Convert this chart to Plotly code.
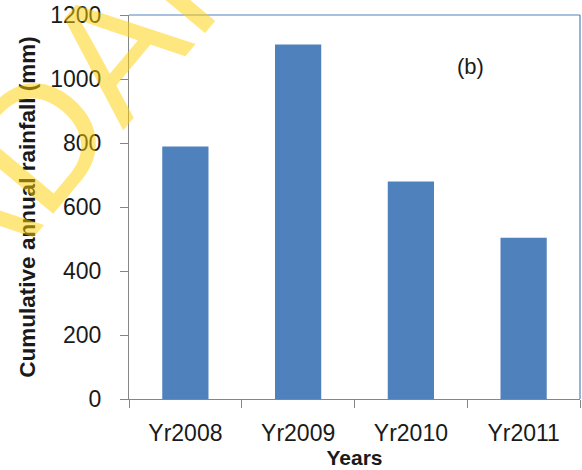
import plotly.graph_objects as go

years = ["Yr2008", "Yr2009", "Yr2010", "Yr2011"]
rainfall = [789, 1108, 680, 504]
y_ticks = [0, 200, 400, 600, 800, 1000, 1200]

BAR = "#4F81BD"
AX = "#868686"
FONT = "Liberation Sans, Arial, sans-serif"

fig = go.Figure()
fig.add_trace(go.Bar(x=years, y=rainfall, marker=dict(color=BAR, line=dict(width=0)),
                     width=0.41))

fig.update_layout(
    width=582, height=470,
    margin=dict(l=129, r=2, t=15, b=71),
    paper_bgcolor="white", plot_bgcolor="white",
    showlegend=False,
    font=dict(family=FONT, color="#1a1a1a"),
    xaxis=dict(
        type="category", tickson="boundaries", ticks="outside", ticklen=8,
        tickcolor=AX, showline=True, linecolor=AX, linewidth=1,
        showgrid=False, tickfont=dict(size=23, color="#1a1a1a"),
        ticklabelstandoff=13,
        title=dict(text="<b>Years</b>", font=dict(size=21, color="#1a1a1a"), standoff=1),
    ),
    yaxis=dict(
        range=[0, 1200], tickvals=y_ticks, ticks="outside", ticklen=8,
        tickcolor=AX, showline=True, linecolor=AX, linewidth=1,
        showgrid=False, zeroline=False, tickfont=dict(size=23, color="#1a1a1a"),
        ticklabelstandoff=14,
        title=dict(text="<b>Cumulative annual rainfall (mm)</b>",
                   font=dict(size=22.5, color="#1a1a1a"), standoff=8),
    ),
)

# top and right plot border (blue)
fig.add_shape(type="line", xref="paper", yref="paper", x0=0, x1=1, y0=1, y1=1,
              line=dict(color=BAR, width=1.2))
fig.add_shape(type="line", xref="paper", yref="paper", x0=1, x1=1, y0=0, y1=1,
              line=dict(color=BAR, width=1.2))

fig.add_annotation(text="(b)", xref="paper", yref="paper", x=0.758, y=0.867,
                   xanchor="center", yanchor="middle",
                   showarrow=False, font=dict(size=22, color="#1a1a1a"))

# watermark (partly outside the picture, as in the reference)
fig.add_annotation(text="ADAP", xref="paper", yref="paper", x=-0.12, y=0.79,
                   xanchor="center", yanchor="middle", showarrow=False, textangle=-50,
                   font=dict(size=170, color="rgba(255,208,0,0.5)"))

fig.write_html("out.html")
